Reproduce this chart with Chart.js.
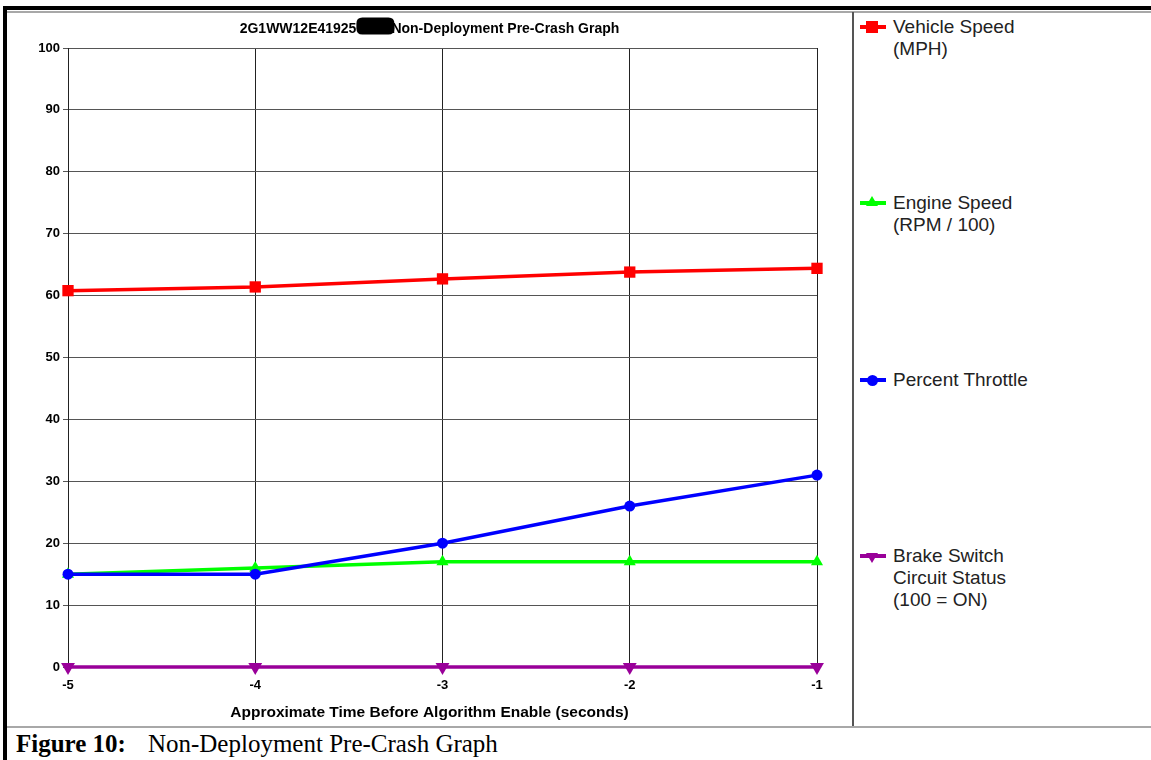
<!DOCTYPE html>
<html><head><meta charset="utf-8">
<script src="https://cdn.jsdelivr.net/npm/chart.js@4"></script>
<style>
html,body{margin:0;padding:0;background:#fff;}
#page{position:relative;width:1151px;height:760px;overflow:hidden;background:#fff;}
.ln{position:absolute;}
#chart{position:absolute;left:7px;top:13px;}
.lg{position:absolute;left:893px;font:19px "Liberation Sans",Arial,sans-serif;line-height:22px;color:#222;white-space:nowrap;}
.lgline{position:absolute;left:860px;width:26px;height:4px;}
.mk{position:absolute;}
#caption{position:absolute;left:16px;top:730px;font:25px "Liberation Serif","Times New Roman",serif;line-height:28px;color:#000;white-space:nowrap;}
#caption span{margin-left:22px;}
</style></head><body>
<div id="page">
<canvas id="chart" width="845" height="712"></canvas>
<div class="ln" style="left:3px;top:6px;width:1148px;height:4px;background:#000"></div>
<div class="ln" style="left:3px;top:6px;width:4px;height:754px;background:#000"></div>
<div class="ln" style="left:7px;top:11px;width:1144px;height:2px;background:#a8a8a8"></div>
<div class="ln" style="left:7px;top:726px;width:1144px;height:2px;background:#a8a8a8"></div>
<div class="ln" style="left:852px;top:12px;width:2px;height:714px;background:#555"></div>
<div id="legend"></div>
<div id="caption"><b>Figure 10:</b><span>Non-Deployment Pre-Crash Graph</span></div>
</div>
<script>
// ---- data ----
const timeLabels = ['-5', '-4', '-3', '-2', '-1'];
const vehicleSpeed = [60.8, 61.4, 62.7, 63.8, 64.4];
const engineSpeed = [15, 16, 17, 17, 17];
const percentThrottle = [15, 15, 20, 26, 31];
const brakeStatus = [0, 0, 0, 0, 0];
const seriesNames = [
  ['Vehicle Speed', '(MPH)'],
  ['Engine Speed', '(RPM / 100)'],
  ['Percent Throttle'],
  ['Brake Switch', 'Circuit Status', '(100 = ON)']
];
const titlePrefix = '2G1WW12E41925';
const titleSuffix = 'Non-Deployment Pre-Crash Graph';
const xAxisTitle = 'Approximate Time Before Algorithm Enable (seconds)';
const yMin = 0, yMax = 100, yStep = 10;

const GAP = '\u00a0'.repeat(9);
const FONT = '"Liberation Sans", Arial, sans-serif';
const TITLE_SIZE = 14, TITLE_PAD_TOP = 8;
const XT_SIZE = 15.5, XT_PAD_TOP = 4, XT_PAD_BOTTOM = 2.7;
const colors = ['#ff0000', '#00ff00', '#0000ff', '#990099'];

const redactPlugin = {
  id: 'redact',
  afterDraw(chart) {
    const tb = chart.titleBlock;
    if (!tb) return;
    const ctx = chart.ctx;
    ctx.save();
    ctx.font = 'bold ' + TITLE_SIZE + 'px ' + FONT;
    const full = titlePrefix + GAP + titleSuffix;
    const w = ctx.measureText(full).width;
    const left = (tb.left + tb.right) / 2 - w / 2;
    const pw = ctx.measureText(titlePrefix).width;
    const gw = ctx.measureText(GAP).width;
    const cy = tb.top + TITLE_PAD_TOP + TITLE_SIZE * 0.6;
    const x0 = left + pw, x1 = left + pw + gw + 3;
    const y0 = cy - 12, y1 = cy + 5, r = 6;
    ctx.fillStyle = '#000';
    ctx.beginPath();
    ctx.moveTo(x0 + r, y0);
    ctx.lineTo(x1 - r, y0); ctx.quadraticCurveTo(x1, y0, x1, y0 + r);
    ctx.lineTo(x1, y1 - r); ctx.quadraticCurveTo(x1, y1, x1 - r, y1);
    ctx.lineTo(x0 + r, y1); ctx.quadraticCurveTo(x0, y1, x0, y1 - r);
    ctx.lineTo(x0, y0 + r); ctx.quadraticCurveTo(x0, y0, x0 + r, y0);
    ctx.fill();
    ctx.restore();
  }
};

const ds = (i, data, style, radius, rot, order) => ({
  label: seriesNames[i].join(' '),
  data: data,
  borderColor: colors[i],
  backgroundColor: colors[i],
  borderWidth: 3.5,
  pointStyle: style,
  pointRadius: radius,
  pointHoverRadius: radius,
  pointRotation: rot,
  pointBorderWidth: 0,
  tension: 0,
  clip: false,
  order: order
});

new Chart(document.getElementById('chart'), {
  type: 'line',
  data: {
    labels: timeLabels,
    datasets: [
      ds(0, vehicleSpeed, 'rect', 8, 0, 3),
      ds(1, engineSpeed, 'triangle', 7, 0, 2),
      ds(2, percentThrottle, 'circle', 5.5, 0, 1),
      ds(3, brakeStatus, 'triangle', 8, 180, 0)
    ]
  },
  options: {
    responsive: false,
    animation: false,
    layout: { padding: { left: 0, right: 0, top: 0, bottom: 0 } },
    plugins: {
      legend: { display: false },
      tooltip: { enabled: false },
      title: {
        display: true,
        text: titlePrefix + GAP + titleSuffix,
        color: '#000',
        font: { family: FONT, size: TITLE_SIZE, weight: 'bold' },
        padding: { top: TITLE_PAD_TOP, bottom: 35 - TITLE_PAD_TOP - TITLE_SIZE * 1.2 }
      },
      subtitle: {
        display: true,
        position: 'bottom',
        text: xAxisTitle,
        color: '#000',
        font: { family: FONT, size: XT_SIZE, weight: 'bold' },
        padding: { top: XT_PAD_TOP, bottom: XT_PAD_BOTTOM }
      }
    },
    scales: {
      x: {
        type: 'category',
        offset: false,
        grid: { color: '#222', lineWidth: 1, drawTicks: false },
        border: { color: '#222', width: 1 },
        ticks: { color: '#000', padding: 11, font: { family: FONT, size: 13, weight: 'bold' } },
        afterFit: s => { s.height = 58 - (XT_SIZE * 1.2 + XT_PAD_TOP + XT_PAD_BOTTOM); }
      },
      y: {
        min: yMin, max: yMax,
        grid: { color: '#555', lineWidth: 1, drawTicks: true, tickLength: 5 },
        border: { color: '#222', width: 1 },
        ticks: { stepSize: yStep, color: '#000', padding: 3, font: { family: FONT, size: 13, weight: 'bold' } },
        afterFit: s => { s.width = 61; }
      },
      spacer: {
        position: 'right',
        display: true,
        grid: { display: false, drawOnChartArea: false },
        border: { display: false },
        ticks: { display: false },
        afterFit: s => { s.width = 35; }
      }
    }
  },
  plugins: [redactPlugin]
});

// ---- HTML legend ----
const legendCenters = [27, 203, 380, 556];
const lg = document.getElementById('legend');
const shapes = ['sq', 'tri', 'circ', 'tridown'];
seriesNames.forEach((lines, i) => {
  const cy = legendCenters[i];
  const line = document.createElement('div');
  line.className = 'lgline';
  line.style.top = (cy - 2) + 'px';
  line.style.background = colors[i];
  lg.appendChild(line);
  const m = document.createElement('div');
  m.className = 'mk';
  const c = colors[i];
  if (shapes[i] === 'sq') {
    Object.assign(m.style, { left: '866px', top: (cy - 6) + 'px', width: '12px', height: '12px', background: c });
  } else if (shapes[i] === 'circ') {
    Object.assign(m.style, { left: '867px', top: (cy - 5.5) + 'px', width: '11px', height: '11px', borderRadius: '50%', background: c });
  } else if (shapes[i] === 'tri') {
    Object.assign(m.style, { left: '866px', top: (cy - 7) + 'px', width: 0, height: 0,
      borderLeft: '6px solid transparent', borderRight: '6px solid transparent', borderBottom: '10px solid ' + c });
  } else {
    Object.assign(m.style, { left: '866px', top: (cy - 3) + 'px', width: 0, height: 0,
      borderLeft: '6px solid transparent', borderRight: '6px solid transparent', borderTop: '10px solid ' + c });
  }
  lg.appendChild(m);
  const t = document.createElement('div');
  t.className = 'lg';
  t.style.top = (cy - 11) + 'px';
  t.innerHTML = lines.join('<br>');
  lg.appendChild(t);
});
</script>
</body></html>
